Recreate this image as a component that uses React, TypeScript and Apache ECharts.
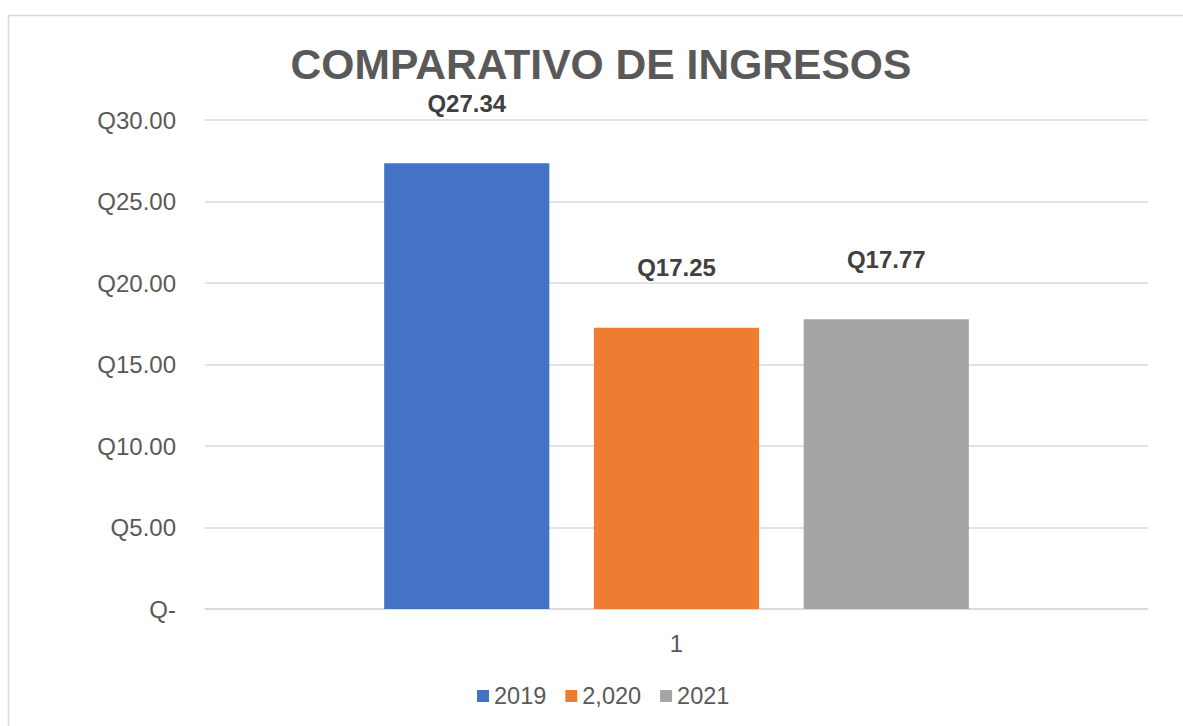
import React, { useEffect, useRef } from "react";
import * as echarts from "echarts";

const categories = ["1"];
const seriesNames = ["2019", "2,020", "2021"];
const values2019 = [27.34];
const values2020 = [17.25];
const values2021 = [17.77];
const colors = ["#4472C4", "#ED7D31", "#A5A5A5"];
const yTicks = { min: 0, max: 30, interval: 5 };

const FONT = "'Liberation Sans', Arial, sans-serif";

export default function App() {
  const ref = useRef<HTMLDivElement>(null);
  useEffect(() => {
    if (!ref.current) return;
    const chart = echarts.init(ref.current, null, { renderer: "svg" });
    const data = [values2019, values2020, values2021];
    chart.setOption({
      animation: false,
      backgroundColor: "#ffffff",
      textStyle: { fontFamily: FONT },
      graphic: [
        {
          type: "rect",
          shape: { x: 8.5, y: 15.5, width: 1200, height: 750 },
          style: { fill: "none", stroke: "#D9D9D9", lineWidth: 1.5 },
          silent: true,
          z: -1,
        },
      ],
      title: {
        text: "COMPARATIVO DE INGRESOS",
        left: 596,
        textAlign: "center",
        top: 37,
        textStyle: { fontFamily: FONT, fontSize: 42.6, fontWeight: "bold", color: "#595959" },
      },
      legend: {
        left: 477,
        top: 684,
        padding: 0,
        itemWidth: 12,
        itemHeight: 12,
        itemGap: 19,
        icon: "rect",
        textStyle: { fontFamily: FONT, fontSize: 23.5, color: "#595959" },
        data: seriesNames,
      },
      grid: { left: 205, right: 35, top: 120, bottom: 117 },
      xAxis: {
        type: "category",
        data: categories,
        axisTick: { show: false },
        axisLine: { lineStyle: { color: "#D9D9D9", width: 1.5 } },
        axisLabel: { fontFamily: FONT, fontSize: 24, color: "#595959", margin: 22 },
      },
      yAxis: {
        type: "value",
        min: yTicks.min,
        max: yTicks.max,
        interval: yTicks.interval,
        axisLine: { show: false },
        axisTick: { show: false },
        splitLine: { lineStyle: { color: "#D9D9D9", width: 1.5 } },
        axisLabel: {
          fontFamily: FONT,
          fontSize: 24,
          color: "#595959",
          margin: 29,
          formatter: (v: number) => (v === 0 ? "Q-" : "Q" + v.toFixed(2)),
        },
      },
      series: seriesNames.map((name, i) => ({
        name,
        type: "bar",
        data: data[i],
        barGap: "27%",
        barCategoryGap: "38%",
        itemStyle: { color: colors[i] },
        label: {
          show: true,
          position: "top",
          distance: 48,
          fontFamily: FONT,
          fontSize: 24,
          fontWeight: "bold",
          color: "#404040",
          formatter: (p: any) => "Q" + Number(p.value).toFixed(2),
        },
      })),
    });
    return () => chart.dispose();
  }, []);
  return (
    <div
      ref={ref}
      style={{ position: "fixed", left: 0, top: 0, width: 1183, height: 726 }}
    />
  );
}
